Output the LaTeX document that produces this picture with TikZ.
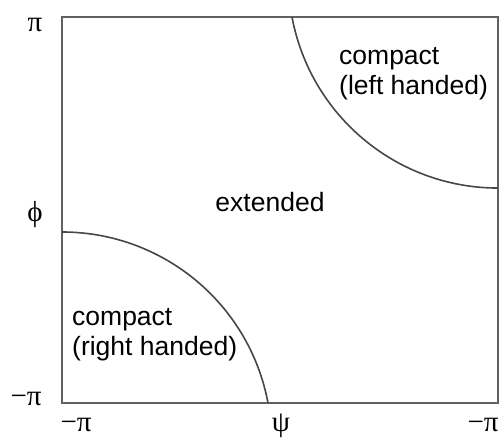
\documentclass[tikz,border=0pt]{standalone}
\usepackage{fontspec}
\setmainfont{Liberation Sans}
\newfontfamily\greekfont{Liberation Serif}
\begin{document}
\begin{tikzpicture}[x=1pt,y=1pt,
  lbl/.style={inner sep=0pt,font=\fontsize{26.5}{30}\selectfont,align=left},
  gk/.style={inner sep=0pt,font=\greekfont\fontsize{29}{30}\selectfont},
  frame/.style={draw=black!62,line width=2pt},
  curve/.style={draw=black!72,line width=1.6pt}]
\useasboundingbox (0,0) rectangle (501,439);
% frame
\draw[frame] (62,36) rectangle (498,422);
% curves: circular arcs, radius 209.6
\draw[curve] (62,207) arc[start angle=90,end angle=10.6,radius=209.6];
\draw[curve] (292,422) arc[start angle=190.6,end angle=270,radius=209.6];
% region labels
\node[lbl,anchor=base west] (cl) at (339,344) {compact\\(left handed)};
\node[lbl,anchor=base] (ex) at (270,227) {extended};
\node[lbl,anchor=base west] (cr) at (72,83) {compact\\(right handed)};
% axis labels
\node[gk,anchor=base] (ypi) at (35,407) {π};
\node[gk] (yphi) at (35,224) {ϕ};
\node[gk,anchor=base] (ympi) at (26,33) {−π};
\node[gk,anchor=base] (xmpi) at (76,7) {−π};
\node[gk,anchor=base] (xpsi) at (281,7) {ψ};
\node[gk,anchor=base] (xpi) at (483,7) {−π};
\end{tikzpicture}
\end{document}
